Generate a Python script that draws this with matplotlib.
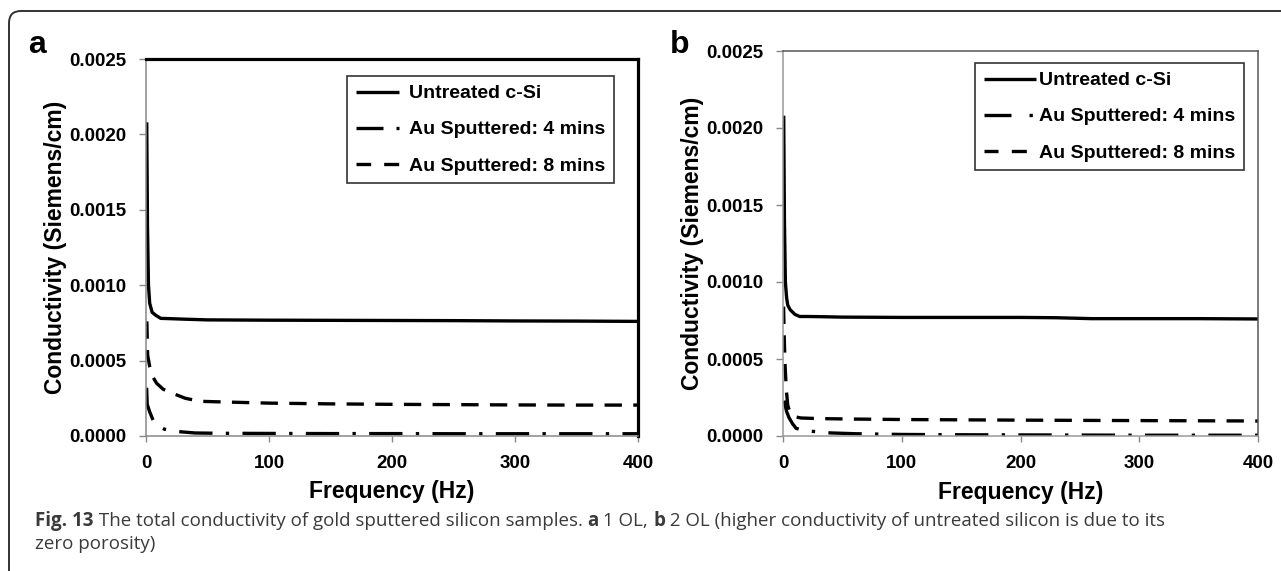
import matplotlib
matplotlib.use("Agg")
import matplotlib.pyplot as plt
from matplotlib.lines import Line2D
from matplotlib.patches import FancyBboxPatch
from matplotlib.transforms import IdentityTransform
from matplotlib.ticker import FormatStrFormatter

plt.rcParams['font.family'] = ['Liberation Sans', 'DejaVu Sans']

# Panel a (1 OL)
freq_a_untreated = [0.6, 1.2, 2, 3, 5, 8, 12, 20, 30, 50, 100, 150, 200, 250, 300, 350, 400]
cond_a_untreated = [0.00208, 0.00140, 0.00100, 0.00088, 0.00082, 0.00080, 0.00078, 0.000778,
                    0.000775, 0.00077, 0.000768, 0.000767, 0.000766, 0.000765, 0.000763,
                    0.000762, 0.00076]
freq_a_4min = [0.5, 1, 3, 6, 10, 15, 25, 40, 60, 100, 150, 200, 250, 300, 350, 400]
cond_a_4min = [0.00032, 0.00021, 0.00016, 0.00010, 0.000065, 0.000045, 0.00003, 0.00002,
               0.000018, 0.000017, 0.000016, 0.000016, 0.000015, 0.000015, 0.000015, 0.000015]
freq_a_8min = [0.7, 1.3, 3, 5, 8.6, 14, 21, 32, 44, 66, 100, 150, 200, 250, 300, 350, 400]
cond_a_8min = [0.00076, 0.00054, 0.00046, 0.00040, 0.00035, 0.00031, 0.000285, 0.00025,
               0.00023, 0.000225, 0.000218, 0.000213, 0.00021, 0.000208, 0.000206,
               0.000205, 0.000205]

# Panel b (2 OL)
freq_b_untreated = [0.6, 1.2, 2, 3, 4, 6, 10, 14, 20, 30, 50, 100, 150, 200, 230, 260,
                    300, 350, 400]
cond_b_untreated = [0.00208, 0.00140, 0.00100, 0.00090, 0.00085, 0.00082, 0.00079, 0.000776,
                    0.000776, 0.000775, 0.000772, 0.00077, 0.00077, 0.00077, 0.000768,
                    0.000762, 0.000762, 0.000762, 0.00076]
freq_b_4min = [1, 3, 5, 8, 11, 18, 25, 40, 60, 100, 150, 200, 300, 400]
cond_b_4min = [0.00023, 0.00016, 0.00012, 0.00008, 0.00005, 0.000035, 0.00003, 0.00002,
               0.000015, 0.00001, 0.000008, 0.000007, 0.000005, 0.000005]
freq_b_8min = [0.5, 1, 1.8, 2.8, 4, 6, 10, 15, 30, 60, 100, 200, 300, 400]
cond_b_8min = [0.00084, 0.00065, 0.00045, 0.00030, 0.00020, 0.00015, 0.000125, 0.000117,
               0.000113, 0.00011, 0.000107, 0.000103, 0.0001, 0.0000975]

labels = ['Untreated c-Si', 'Au Sputtered: 4 mins', 'Au Sputtered: 8 mins']
x_ticks = [0, 100, 200, 300, 400]
y_ticks = [0.0, 0.0005, 0.0010, 0.0015, 0.0020, 0.0025]

caption_1 = [('Fig. 13', 'bold'),
             (' The total conductivity of gold sputtered silicon samples. ', 'normal'),
             ('a', 'bold'), (' 1 OL, ', 'normal'), ('b', 'bold'),
             (' 2 OL (higher conductivity of untreated silicon is due to its', 'normal')]
caption_2 = [('zero porosity)', 'normal')]

W, H = 1281, 571
fig = plt.figure(figsize=(W / 100, H / 100), dpi=100)

LW = 2.4
dashdot = (0, (10, 4, 1, 4))
dashed = (0, (5.2, 3.4))


def panel(rect, series, thick_frame, leg_xy, handlelen, textpad, leg_styles, ylab_x):
    ax = fig.add_axes(rect)
    for (f, c), ls, lab in zip(series, ['-', dashdot, dashed], labels):
        ax.plot(f, c, color='black', lw=LW, linestyle=ls, label=lab,
                solid_capstyle='butt', dash_capstyle='butt')
    ax.set_xlim(0, 400)
    ax.set_ylim(0, 0.0025)
    ax.set_xticks(x_ticks)
    ax.set_yticks(y_ticks)
    ax.yaxis.set_major_formatter(FormatStrFormatter('%.4f'))
    ax.tick_params(axis='y', length=5, width=1, color='#888888', pad=9,
                   labelsize=13.5)
    ax.tick_params(axis='x', length=4, width=1, color='#888888', pad=10,
                   labelsize=13.5)
    for lab in ax.get_xticklabels() + ax.get_yticklabels():
        lab.set_fontweight('bold')
    if thick_frame:
        for s in ['top', 'right']:
            ax.spines[s].set_color('black')
            ax.spines[s].set_linewidth(2.3)
        for s in ['left', 'bottom']:
            ax.spines[s].set_color('#888888')
            ax.spines[s].set_linewidth(1.1)
    else:
        for s in ['top', 'right']:
            ax.spines[s].set_color('#555555')
            ax.spines[s].set_linewidth(1.1)
        for s in ['left', 'bottom']:
            ax.spines[s].set_color('#999999')
            ax.spines[s].set_linewidth(1.1)
    ax.set_xlabel('Frequency (Hz)', fontsize=16.5, fontweight='bold')
    ax.set_ylabel('Conductivity (Siemens/cm)', fontsize=16.5, fontweight='bold')
    ax.xaxis.set_label_coords(0.5, -0.118)
    ax.yaxis.set_label_coords(ylab_x, 0.5)
    # legend keys drawn with shorter dashes, as the spreadsheet legend does
    handles = [Line2D([], [], color='black', lw=LW, linestyle=ls,
                      solid_capstyle='butt', dash_capstyle='butt') for ls in leg_styles]
    leg = ax.legend(handles, labels, loc='upper left',
                    bbox_to_anchor=(leg_xy[0] / W, 1 - leg_xy[1] / H),
                    bbox_transform=fig.transFigure, borderaxespad=0,
                    prop={'weight': 'bold', 'size': 14}, frameon=True,
                    fancybox=False, edgecolor='#333333', framealpha=1,
                    borderpad=0.45, labelspacing=0.95, handlelength=handlelen,
                    handletextpad=textpad)
    leg.get_frame().set_linewidth(1.2)
    return ax


panel([146 / W, 1 - 436 / H, 492 / W, 377 / H],
      [(freq_a_untreated, cond_a_untreated), (freq_a_4min, cond_a_4min),
       (freq_a_8min, cond_a_8min)],
      True, (347, 76), 2.2, 0.55,
      ['-', (0, (8.1, 3.9, 1, 10)), (0, (4.4, 3.9, 4.5, 10))], -0.161)
panel([783 / W, 1 - 436 / H, 475 / W, 385 / H],
      [(freq_b_untreated, cond_b_untreated), (freq_b_4min, cond_b_4min),
       (freq_b_8min, cond_b_8min)],
      False, (975, 63), 2.7, 0.15,
      ['-', (0, (8.1, 5.4, 1, 10)), (0, (4.2, 4, 4.5, 10))], -0.166)

# panel letters
fig.text(37 / W, 1 - 53 / H, 'a', fontsize=23, fontweight='bold', ha='center', va='baseline')
fig.text(680 / W, 1 - 53 / H, 'b', fontsize=23, fontweight='bold', ha='center', va='baseline')

# outer rounded frame (runs off the right and bottom edges)
frame = FancyBboxPatch((9, -40), 1320, H - 11 + 40,
                       boxstyle='round,pad=0,rounding_size=12',
                       transform=IdentityTransform(), facecolor='none',
                       edgecolor='#333333', linewidth=1.4)
fig.add_artist(frame)

# caption, written run by run so the bold parts sit inline
cap_color = '#3a3a3a'
cap_size = 13.5
renderer = fig.canvas.get_renderer()


def run_width(s, weight):
    t1 = fig.text(0, 0, '|' + s + '|', fontsize=cap_size, family='Open Sans', fontweight=weight)
    t2 = fig.text(0, 0, '||', fontsize=cap_size, family='Open Sans', fontweight=weight)
    w = t1.get_window_extent(renderer).width - t2.get_window_extent(renderer).width
    t1.remove()
    t2.remove()
    return w


def caption_line(runs, x, y):
    for s, weight in runs:
        fig.text(x / W, 1 - y / H, s, fontsize=cap_size, family='Open Sans',
                 fontweight=weight, color=cap_color, va='baseline')
        x += run_width(s, weight)


caption_line(caption_1, 35, 526)
caption_line(caption_2, 35, 549)

fig.savefig('out.png', dpi=100, facecolor='white')
